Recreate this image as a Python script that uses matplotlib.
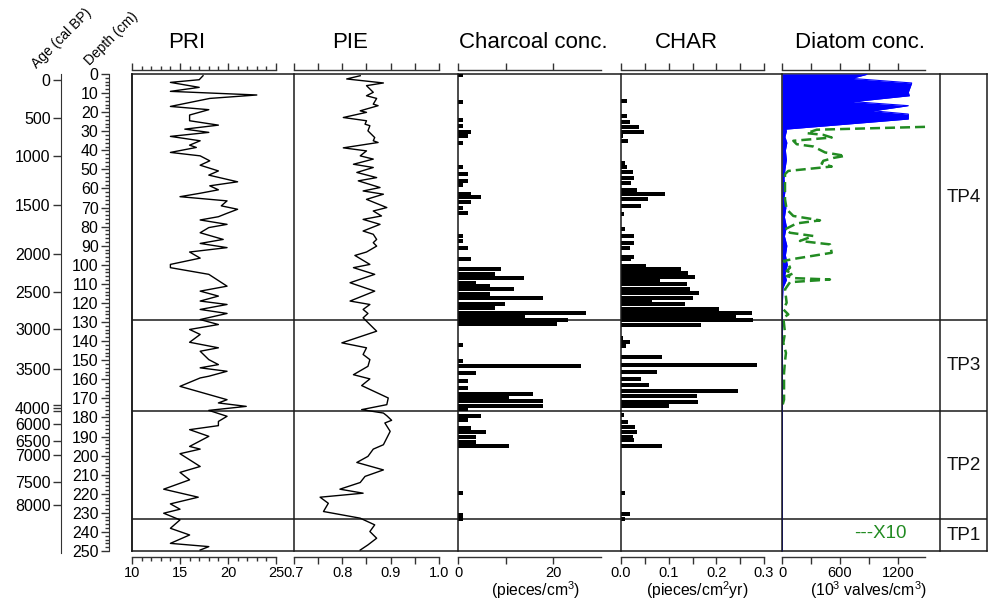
import matplotlib.pyplot as plt
from matplotlib.ticker import MultipleLocator

plt.rcParams['font.family'] = ['Liberation Sans', 'DejaVu Sans']
plt.rcParams['mathtext.fontset'] = 'custom'
plt.rcParams['mathtext.rm'] = 'Liberation Sans'
plt.rcParams['mathtext.it'] = 'Liberation Sans:italic'
plt.rcParams['mathtext.bf'] = 'Liberation Sans:bold'

# =========================
# DATA
# =========================

pri_depth = [0.9, 3.0, 4.4, 7.0, 9.1, 11.0, 12.8, 17.0, 18.7, 21.5,
             24.5, 26.8, 28.9, 30.6, 32.7, 35.0, 37.3, 38.5, 41.1, 42.9,
             45.5, 47.8, 50.8, 53.0, 56.5, 58.6, 60.7, 62.5, 64.3, 66.5,
             69.1, 70.9, 73.0, 74.8, 76.5, 78.8, 80.5, 83.2, 86.7, 88.8,
             91.0, 93.3, 96.5, 99.8, 101.5, 105.0, 111.2, 113.8, 116.4, 119.0,
             120.8, 123.4, 125.5, 128.7, 131.3, 133.9, 136.5, 140.6, 143.5, 145.3,
             149.7, 152.3, 154.0, 155.8, 158.4, 159.3, 163.7, 170.7, 172.4, 174.2,
             176.3, 179.4, 182.1, 184.3, 186.4, 189.9, 195.2, 196.6, 199.0, 205.7,
             208.8, 212.7, 217.6, 221.8, 225.3, 228.1, 230.2, 233.7, 238.1, 241.6,
             246.0, 247.7, 249.5]
pri = [17.4, 17.0, 14.0, 17.0, 14.0, 23.0, 18.1, 14.0, 18.0, 16.0,
       16.0, 19.0, 15.5, 18.0, 14.0, 17.1, 16.0, 16.7, 14.0, 17.1,
       18.1, 17.1, 19.0, 18.0, 21.0, 18.1, 19.0, 17.1, 15.0, 19.9,
       19.3, 21.0, 19.9, 19.0, 17.1, 19.9, 18.0, 17.1, 19.5, 17.1,
       19.9, 16.0, 17.1, 14.0, 14.0, 18.0, 19.9, 17.1, 19.0, 17.1,
       19.9, 17.1, 19.9, 17.1, 19.0, 16.0, 17.1, 16.0, 19.0, 17.1,
       18.0, 19.0, 17.1, 19.9, 18.0, 17.1, 15.0, 19.9, 19.0, 21.9,
       18.0, 19.9, 19.0, 19.0, 16.0, 18.0, 16.0, 17.1, 15.0, 17.1,
       15.0, 16.0, 13.3, 16.9, 14.0, 15.0, 13.3, 15.0, 14.0, 16.0,
       14.0, 18.0, 17.1]

pie_depth = [0.9, 2.6, 4.7, 6.1, 9.6, 11.4, 12.8, 15.8, 16.6, 19.3,
             20.1, 22.8, 24.5, 26.3, 27.1, 29.8, 33.3, 35.0, 35.9, 38.7,
             40.3, 42.9, 44.6, 47.3, 49.0, 51.6, 54.3, 56.0, 59.5, 61.3,
             63.0, 65.7, 70.0, 71.8, 74.4, 76.2, 78.8, 82.3, 84.0, 86.7,
             88.4, 90.2, 93.3, 95.1, 99.8, 101.5, 105.0, 109.4, 113.8, 119.0,
             120.8, 123.4, 125.5, 127.8, 134.8, 140.9, 143.5, 147.0, 149.7, 153.2,
             157.6, 159.8, 163.3, 169.8, 173.3, 175.9, 177.7, 179.1, 181.5, 182.9,
             187.3, 190.8, 194.3, 196.6, 200.4, 203.6, 207.5, 210.9, 214.1, 217.6,
             219.7, 221.8, 225.0, 229.3, 232.8, 236.3, 239.8, 243.3, 246.8, 249.5]
pie = [0.837, 0.809, 0.885, 0.850, 0.864, 0.850, 0.871, 0.864, 0.874, 0.837,
       0.850, 0.802, 0.850, 0.847, 0.857, 0.853, 0.867, 0.864, 0.874, 0.802,
       0.850, 0.837, 0.864, 0.823, 0.864, 0.830, 0.871, 0.833, 0.878, 0.843,
       0.885, 0.850, 0.892, 0.864, 0.881, 0.843, 0.878, 0.843, 0.864, 0.871,
       0.864, 0.871, 0.850, 0.826, 0.857, 0.823, 0.867, 0.816, 0.867, 0.816,
       0.857, 0.843, 0.853, 0.843, 0.871, 0.799, 0.850, 0.843, 0.857, 0.853,
       0.823, 0.857, 0.840, 0.895, 0.892, 0.840, 0.885, 0.892, 0.902, 0.888,
       0.899, 0.892, 0.885, 0.864, 0.853, 0.830, 0.885, 0.847, 0.837, 0.795,
       0.843, 0.754, 0.771, 0.761, 0.837, 0.867, 0.857, 0.871, 0.853, 0.837]

char_depth = [0.5, 14.5, 24.2, 27.0, 30.3, 32.7, 36.4, 48.5, 52.5, 56.0,
              58.3, 62.7, 64.4, 67.0, 70.0, 72.7, 84.9, 87.5, 91.0, 97.2,
              102.1, 104.7, 107.1, 109.8, 111.2, 112.9, 115.2, 117.3, 120.8, 122.6,
              125.2, 127.3, 129.1, 131.0, 141.8, 150.6, 152.9, 156.7, 160.7, 164.6,
              167.6, 169.8, 171.6, 173.9, 175.6, 179.5, 181.6, 185.3, 187.4, 190.0,
              193.1, 195.2, 219.4, 231.1, 233.4]
char_conc = [1.0, 1.0, 1.0, 1.0, 2.8, 2.0, 1.0, 1.0, 2.0, 2.0,
             1.0, 2.8, 4.9, 2.8, 1.0, 2.0, 1.0, 1.0, 2.0, 2.8,
             9.0, 7.8, 13.9, 3.8, 6.7, 11.8, 6.7, 17.9, 9.9, 7.8,
             26.9, 14.0, 23.0, 20.8, 1.0, 1.0, 25.8, 3.8, 2.0, 2.0,
             15.7, 10.8, 17.9, 17.9, 2.0, 4.9, 2.0, 2.8, 5.9, 3.8,
             3.8, 10.8, 1.0, 1.0, 1.0]

charr_depth = [14.0, 21.9, 25.0, 28.0, 30.3, 32.7, 35.0, 46.7, 48.5, 51.3,
               54.3, 56.9, 60.7, 63.0, 65.7, 69.1, 73.2, 81.1, 84.9, 88.4,
               91.0, 95.8, 97.2, 100.7, 102.4, 104.2, 106.3, 108.2, 110.3, 112.6,
               114.7, 117.3, 119.0, 120.8, 123.1, 125.2, 127.3, 129.0, 131.3, 138.3,
               140.6, 142.7, 148.5, 152.3, 156.4, 159.7, 162.8, 166.3, 169.0, 172.1,
               174.2, 178.6, 182.6, 185.1, 187.4, 190.0, 191.7, 194.9, 219.4, 230.6,
               233.4]
charr = [0.012, 0.012, 0.019, 0.038, 0.048, 0.004, 0.015, 0.009, 0.013, 0.025,
         0.028, 0.022, 0.033, 0.092, 0.057, 0.043, 0.007, 0.008, 0.028, 0.028,
         0.018, 0.028, 0.022, 0.052, 0.126, 0.141, 0.155, 0.082, 0.139, 0.144,
         0.163, 0.150, 0.064, 0.134, 0.206, 0.274, 0.242, 0.277, 0.168, 0.005,
         0.018, 0.010, 0.085, 0.285, 0.075, 0.043, 0.059, 0.246, 0.159, 0.162,
         0.101, 0.007, 0.015, 0.029, 0.033, 0.026, 0.028, 0.086, 0.008, 0.019,
         0.008]

diat_depth = [0.0, 0.2, 2.3, 4.7, 9.6, 11.4, 14.5, 16.6, 19.3, 21.0,
              23.6, 28.9, 30.0, 33.0, 36.0, 40.0, 45.0, 50.0, 55.0, 60.0,
              65.0, 70.0, 75.0, 80.0, 85.0, 90.0, 95.0, 100.0, 105.0, 108.0,
              112.0, 120.0, 250.0]
diat = [876, 876, 720, 1341, 1306, 1317, 738, 1306, 944, 1306,
        1306, 40, 45, 30, 50, 35, 45, 30, 20, 35,
        20, 40, 25, 45, 25, 50, 35, 55, 30, 45,
        10, 4, 4]

x10_depth = [27.7, 29.2, 31.0, 31.9, 33.3, 35.0, 36.8, 38.0, 41.1, 42.9,
             44.0, 45.5, 46.9, 48.5, 50.8, 52.5, 65.6, 70.9, 74.4, 76.7,
             78.3, 81.4, 83.2, 84.9, 87.5, 89.3, 93.7, 96.8, 98.0, 99.3,
             101.5, 103.3, 104.5, 105.9, 107.0, 107.7, 109.1, 112.9, 119.9, 123.4,
             126.0, 127.8, 135.7, 140.9, 146.2, 150.5, 156.7, 170.7, 173.3]
x10 = [1479, 359, 255, 427, 514, 117, 152, 324, 445, 651,
       531, 427, 410, 514, 65, 31, 31, 48, 117, 393,
       152, 31, 83, 324, 186, 496, 514, 134, 14, 65,
       83, 48, 117, 48, 134, 496, 83, 31, 48, 14,
       65, 14, 31, 14, 41, 31, 21, 21, 7]

zone_bounds = [129.0, 176.8, 233.4]
zone_names = ['TP4', 'TP3', 'TP2', 'TP1']

age_labels = ['0', '500', '1000', '1500', '2000', '2500', '3000', '3500',
              '4000', '6000', '6500', '7000', '7500', '8000']
age_depths = [3.0, 23.0, 43.0, 68.5, 94.5, 114.0, 133.5, 154.6,
              175.2, 183.5, 192.3, 199.8, 213.9, 226.1]
age_extra_depths = [173.6, 176.8]

# =========================
# LAYOUT (pixels)
# =========================

W, H = 988, 602
TOP, BOT = 74, 551
fig = plt.figure(figsize=(W / 100, H / 100), dpi=100)


def box(x0, x1, y0=TOP, y1=BOT):
    return [x0 / W, 1 - y1 / H, (x1 - x0) / W, (y1 - y0) / H]


def fx(x):
    return x / W


def fy(y):
    return 1 - y / H


LW = 1.1
INK = '#1a1a1a'
AX = '#333333'

# outer frame + zone boundaries
frame = fig.add_axes(box(132, 987))
frame.set_ylim(250, 0)
frame.set_xticks([])
frame.set_yticks([])
for s in frame.spines.values():
    s.set_linewidth(LW)
    s.set_color(INK)
for b in zone_bounds:
    frame.axhline(b, color=INK, lw=LW)


def panel(x0, x1, lo, span, bound_hi, major, labels, minor=None):
    ax = fig.add_axes(box(x0, x1))
    ax.patch.set_visible(False)
    ax.set_ylim(250, 0)
    ax.set_xlim(lo, lo + span)
    ax.set_yticks([])
    ax.spines['right'].set_visible(False)
    ax.spines['left'].set_linewidth(LW)
    ax.spines['left'].set_color(INK)
    for side, off in (('top', 3), ('bottom', 4)):
        ax.spines[side].set_position(('outward', off))
        ax.spines[side].set_bounds(lo, bound_hi)
        ax.spines[side].set_linewidth(1.0)
        ax.spines[side].set_color(AX)
    ax.set_xticks(major)
    ax.set_xticklabels(labels)
    if minor is not None:
        ax.set_xticks(minor, minor=True)
    ax.tick_params(axis='x', which='major', top=True, bottom=True,
                   direction='out', length=5, width=1.0, color=AX,
                   labelsize=10.5, pad=2, labeltop=False)
    ax.tick_params(axis='x', which='minor', top=True, bottom=True,
                   direction='out', length=3, width=1.0, color=AX)
    return ax


# PRI
ax1 = panel(132, 294, 10, 162 / 9.6, 25, [10, 15, 20, 25],
            ['10', '15', '20', '25'], minor=list(range(11, 25)))
ax1.plot(pri, pri_depth, color='black', lw=1.0)

# PIE
ax2 = panel(294, 458, 0.7, 164 / 483.3, 1.0,
            [0.7, 0.75, 0.8, 0.85, 0.9, 0.95, 1.0],
            ['0.7', '', '0.8', '', '0.9', '', '1.0'])
ax2.plot(pie, pie_depth, color='black', lw=1.0)

# Charcoal conc.
ax3 = panel(458, 621, 0, 163 / 4.767, 30, [0, 10, 20], ['0', '', '20'])
ax3.barh(char_depth, char_conc, height=2.1, color='black', lw=0)

# CHAR
ax4 = panel(621, 782, 0, 161 / 476.7, 0.3,
            [0, 0.05, 0.1, 0.15, 0.2, 0.25, 0.3],
            ['0.0', '', '0.1', '', '0.2', '', '0.3'])
ax4.barh(charr_depth, charr, height=2.1, color='black', lw=0)

# Diatom conc.
ax5 = panel(782, 940, 0, 158 / 0.0967, 1480, [0, 300, 600, 900, 1200],
            ['0', '', '600', '', '1200'])
ax5.fill_betweenx(diat_depth, 0, diat, color='#0000ff', lw=0)
ax5.plot(diat, diat_depth, color='#0000ff', lw=0.8)
ax5.plot(x10, x10_depth, color='#228B22', lw=1.8, ls=(0, (4, 2)))

# zone column
axz = fig.add_axes(box(940, 987))
axz.patch.set_visible(False)
axz.set_ylim(250, 0)
axz.set_xticks([])
axz.set_yticks([])
for s in ['top', 'bottom', 'right']:
    axz.spines[s].set_visible(False)
axz.spines['left'].set_linewidth(LW)
axz.spines['left'].set_color(INK)
edges = [0] + zone_bounds + [250]
for name, a, b in zip(zone_names, edges[:-1], edges[1:]):
    axz.text(0.5, (a + b) / 2, name, transform=axz.get_yaxis_transform(),
             ha='center', va='center', fontsize=13.5, color='#111111')

# depth axis
axd = fig.add_axes(box(109, 115))
axd.patch.set_visible(False)
axd.set_ylim(250, 0)
axd.set_xticks([])
for s in ['top', 'right', 'bottom']:
    axd.spines[s].set_visible(False)
axd.spines['left'].set_color(AX)
axd.yaxis.set_major_locator(MultipleLocator(10))
axd.yaxis.set_minor_locator(MultipleLocator(2))
axd.tick_params(axis='y', which='major', length=6, width=1.0,
                color=AX, labelsize=11.5, pad=1.5)
axd.tick_params(axis='y', which='minor', length=3, width=1.0, color=AX)

# age axis
axa = fig.add_axes(box(61, 67, TOP, BOT + 2))
axa.patch.set_visible(False)
axa.set_ylim(250 + 2 / 1.908, 0)
axa.set_xticks([])
for s in ['top', 'right', 'bottom']:
    axa.spines[s].set_visible(False)
axa.spines['left'].set_color(AX)
axa.set_yticks(age_depths)
axa.set_yticklabels(age_labels)
axa.set_yticks(age_extra_depths, minor=True)
axa.tick_params(axis='y', which='both', length=6, width=1.0,
                color=AX, labelsize=11.5, pad=1.5)

# headers
fig.text(fx(62), fy(38), 'Age (cal BP)', rotation=45, ha='center',
         va='center', rotation_mode='anchor', fontsize=10)
fig.text(fx(111), fy(39), 'Depth (cm)', rotation=45, ha='center',
         va='center', rotation_mode='anchor', fontsize=10)

titles = ['PRI', 'PIE', 'Charcoal conc.', 'CHAR', 'Diatom conc.']
title_x = [187, 350, 533, 686, 860]
for t, x in zip(titles, title_x):
    fig.text(fx(x), fy(42), t, ha='center', va='center', fontsize=16)

units = ['(pieces/cm$^3$)', '(pieces/cm$^2$yr)', '(10$^3$ valves/cm$^3$)']
units_x = [536, 697, 868]
for u, x in zip(units, units_x):
    fig.text(fx(x), fy(590), u, ha='center', va='center', fontsize=11.3)

fig.text(fx(880), fy(533), '---X10', ha='center', va='center',
         fontsize=13.5, color='#228B22')

fig.savefig('out.png', dpi=100)
